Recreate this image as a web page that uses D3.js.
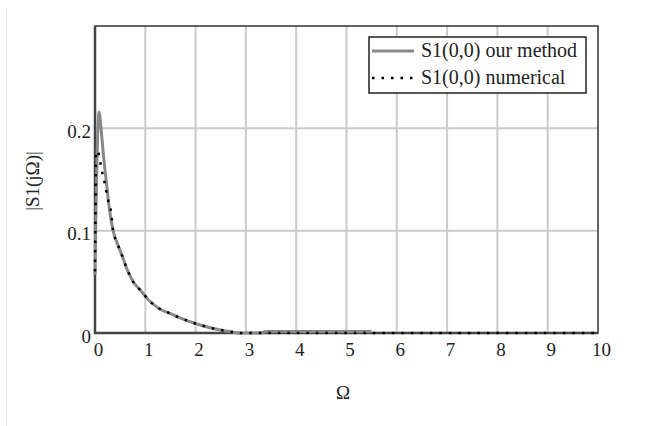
<!DOCTYPE html>
<html>
<head>
<meta charset="utf-8">
<script src="https://cdnjs.cloudflare.com/ajax/libs/d3/7.8.5/d3.min.js"></script>
<style>
  body { margin: 0; background: #fff; }
</style>
</head>
<body>
<script>
// chart data
let omegaOurs = [0, 0.02, 0.04, 0.08, 0.12, 0.16, 0.22, 0.29, 0.36, 0.44, 0.52, 0.64, 0.76, 0.9, 1.09, 1.29, 1.5, 1.69, 2.09, 2.49, 2.7, 2.9, 3.3, 3.4, 4.5, 5.5];
let ourMethod = [0.057, 0.12, 0.17, 0.216, 0.2, 0.178, 0.15, 0.12, 0.1, 0.088, 0.078, 0.062, 0.05, 0.042, 0.031, 0.0235, 0.019, 0.0147, 0.0078, 0.003, 0.0012, 0, 0, 0.0015, 0.0015, 0.0015];

let omegaNum = [0, 0.01, 0.02, 0.05, 0.1, 0.13, 0.2, 0.26, 0.32, 0.36, 0.44, 0.52, 0.64, 0.76, 0.9, 1.09, 1.29, 1.5, 1.69, 2.09, 2.49, 2.7, 2.9, 4, 6, 8, 10];
let numerical = [0.06, 0.12, 0.175, 0.178, 0.168, 0.16, 0.145, 0.13, 0.118, 0.1, 0.088, 0.078, 0.062, 0.05, 0.042, 0.031, 0.0235, 0.019, 0.0147, 0.0078, 0.003, 0.0012, 0, 0, 0, 0, 0];

let xTicks = [0, 1, 2, 3, 4, 5, 6, 7, 8, 9, 10];
let yTicks = [0, 0.1, 0.2];
let yGrid = [0.1, 0.2];
let seriesNames = ['S1(0,0) our method', 'S1(0,0) numerical'];

let width = 657;
let height = 426;
let plotLeft = 95, plotRight = 598, plotTop = 26, plotBottom = 333;
let serif = '"Liberation Serif", "Times New Roman", Times, serif';

let svg = d3.select('body').append('svg')
    .attr('width', width)
    .attr('height', height)
    .attr('font-family', serif);

// faint page frame on the left
svg.append('line')
    .attr('x1', 6.5).attr('x2', 6.5)
    .attr('y1', 8).attr('y2', height)
    .attr('stroke', '#eee').attr('stroke-width', 1);

let x = d3.scaleLinear().domain([0, 10]).range([plotLeft, plotRight]);
let y = d3.scaleLinear().domain([0, 0.3]).range([plotBottom, plotTop]);

// grid lines
svg.append('g').selectAll('line')
    .data(xTicks.slice(1, -1))
    .enter().append('line')
    .attr('x1', d => x(d)).attr('x2', d => x(d))
    .attr('y1', plotTop).attr('y2', plotBottom)
    .attr('stroke', '#cacaca').attr('stroke-width', 2);

svg.append('g').selectAll('line')
    .data(yGrid)
    .enter().append('line')
    .attr('x1', plotLeft).attr('x2', plotRight)
    .attr('y1', d => y(d)).attr('y2', d => y(d))
    .attr('stroke', '#cacaca').attr('stroke-width', 2);

// frame
svg.append('rect')
    .attr('x', plotLeft).attr('y', plotTop)
    .attr('width', plotRight - plotLeft).attr('height', plotBottom - plotTop)
    .attr('fill', 'none').attr('stroke', '#333').attr('stroke-width', 1.5);
svg.append('path')
    .attr('d', 'M' + plotLeft + ',' + plotTop + 'V' + plotBottom + 'H' + plotRight)
    .attr('fill', 'none').attr('stroke', '#444').attr('stroke-width', 2.5);

// axes (labels only, no tick marks)
let xAxis = svg.append('g')
    .attr('transform', 'translate(3,' + (plotBottom + 5) + ')')
    .call(d3.axisBottom(x).tickValues(xTicks).tickSize(0).tickPadding(0));
xAxis.select('.domain').remove();
xAxis.attr('font-family', serif).attr('font-size', 19);
xAxis.selectAll('text').attr('dy', '0.95em').attr('fill', '#222');

let yAxis = svg.append('g')
    .attr('transform', 'translate(' + (plotLeft - 4) + ',3)')
    .call(d3.axisLeft(y).tickValues(yTicks).tickSize(0).tickPadding(0)
        .tickFormat(d => d === 0 ? '0' : d3.format('.1f')(d)));
yAxis.select('.domain').remove();
yAxis.attr('font-family', serif).attr('font-size', 19);
yAxis.selectAll('text').attr('fill', '#222');

// axis titles
svg.append('text')
    .attr('x', 343).attr('y', 399)
    .attr('text-anchor', 'middle')
    .attr('font-size', 19)
    .attr('fill', '#222')
    .text('Ω');

svg.append('text')
    .attr('transform', 'translate(39,181) rotate(-90)')
    .attr('text-anchor', 'middle')
    .attr('font-size', 19)
    .attr('fill', '#222')
    .text('|S1(jΩ)|');

// series
let line = d3.line()
    .x(d => x(d[0]))
    .y(d => y(d[1]))
    .curve(d3.curveMonotoneX);

let oursData = omegaOurs.map((w, i) => [w, ourMethod[i]]);
let numData = omegaNum.map((w, i) => [w, numerical[i]]);

svg.append('path')
    .datum(oursData)
    .attr('d', line)
    .attr('fill', 'none')
    .attr('stroke', '#888')
    .attr('stroke-width', 3);

svg.append('path')
    .datum(numData)
    .attr('d', line)
    .attr('fill', 'none')
    .attr('stroke', '#000')
    .attr('stroke-width', 2.5)
    .attr('stroke-dasharray', '2.5,7');

// legend
let legend = svg.append('g');
legend.append('rect')
    .attr('x', 369).attr('y', 37)
    .attr('width', 217).attr('height', 56)
    .attr('fill', '#fff').attr('stroke', '#222').attr('stroke-width', 1.5);

legend.append('line')
    .attr('x1', 372).attr('x2', 414)
    .attr('y1', 51).attr('y2', 51)
    .attr('stroke', '#888').attr('stroke-width', 3);
legend.append('line')
    .attr('x1', 372).attr('x2', 414)
    .attr('y1', 78).attr('y2', 78)
    .attr('stroke', '#000').attr('stroke-width', 2.5)
    .attr('stroke-dasharray', '2.5,7');

legend.selectAll('text.lbl')
    .data(seriesNames)
    .enter().append('text')
    .attr('class', 'lbl')
    .attr('x', 421)
    .attr('y', (d, i) => 57 + i * 27)
    .attr('font-size', 20)
    .attr('fill', '#222')
    .text(d => d);
</script>
</body>
</html>
